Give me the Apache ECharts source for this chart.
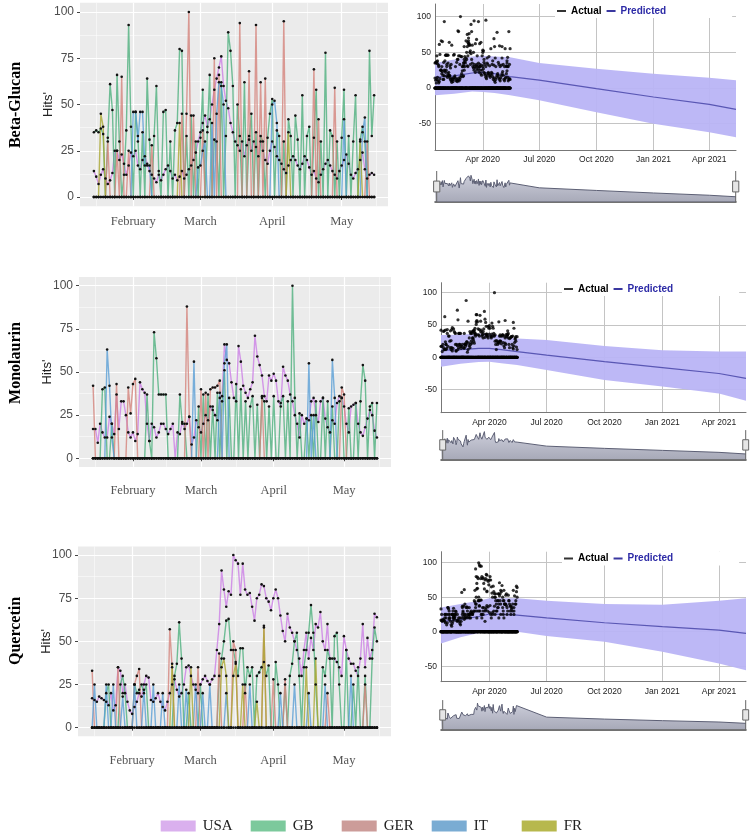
<!DOCTYPE html>
<html><head><meta charset="utf-8">
<script src="https://cdn.jsdelivr.net/npm/echarts@6/dist/echarts.min.js"></script>
<style>html,body{margin:0;padding:0;background:#fff}#c{width:752px;height:836px}</style>
</head><body><div id="c"></div>
<script>
// ---------------- DATA ----------------
const countries = ['USA', 'GB', 'GER', 'IT', 'FR'];
const panelNames = ['Beta-Glucan', 'Monolaurin', 'Quercetin'];
const firstDay = '2020-01-15';   // day 0 of the daily arrays (122 days, to 2020-05-15)
const monthTickDates = ['2020-02-01', '2020-03-01', '2020-04-01', '2020-05-01'];
const monthTickLabels = ['February', 'March', 'April', 'May'];
const minorTickDates = ['2020-01-16', '2020-02-15', '2020-03-16', '2020-04-16', '2020-05-16'];
const hitsMajorTicks = [0, 25, 50, 75, 100];
const hitsMinorTicks = [12.5, 37.5, 62.5, 87.5];
const fcTickDates = ['2020-04-01', '2020-07-01', '2020-10-01', '2021-01-01', '2021-04-01'];
const fcTickLabels = ['Apr 2020', 'Jul 2020', 'Oct 2020', 'Jan 2021', 'Apr 2021'];
const fcValueTicks = [-50, 0, 50, 100];

// Beta-Glucan
const bUSA = [14,11,7,12,15,10,7,9,13,25, 25,20,23,18,12,17,24,22,25,17, 15,20,22,18,14,12,10,8,12,9, 12,15,17,14,10,12,9,11,14,10, 12,15,17,20,24,30,35,40,44,38, 42,50,58,64,70,76,60,52,48,40, 35,30,28,25,30,22,28,33,25,30, 27,22,30,25,20,18,25,30,27,22, 20,18,15,13,17,20,22,20,17,15, 18,22,20,16,12,14,10,8,12,15, 18,20,17,14,12,10,14,17,20,23, 18,12,10,13,15,20,24,15,10,12, 13,12];
const bGB = [35,36,35,37,34,0,32,61,47,0, 66,30,0,12,36,93,38,0,46,33, 0,35,0,64,31,0,33,60,14,0, 46,47,0,30,0,36,40,80,79,0, 33,0,44,0,30,0,32,58,0,35, 66,0,31,30,0,62,0,33,89,79, 60,0,50,33,0,62,0,31,45,0, 35,0,33,30,0,32,45,53,0,36, 33,0,30,0,42,33,0,44,31,0, 55,0,33,38,0,32,58,0,30,0, 78,0,36,33,0,30,0,32,58,0, 33,0,30,55,0,31,38,30,0,79, 33,55];
const bGER = [0,0,0,0,0,0,30,0,0,0, 25,0,65,0,0,25,0,0,0,0, 0,0,0,0,0,28,0,0,0,0, 0,0,0,0,0,0,0,0,45,0, 45,100,0,44,0,0,0,36,0,0, 0,0,75,0,66,0,0,0,0,0, 0,0,0,94,0,0,0,68,0,0, 93,0,62,0,64,0,0,0,0,0, 0,0,95,0,0,0,0,0,0,0, 0,0,0,0,0,69,0,42,0,0, 0,0,0,0,59,0,0,0,0,0, 0,0,0,0,0,0,0,0,30,0, 0,0];
const bIT = [0,0,0,0,0,0,0,0,0,0, 0,0,0,0,0,0,0,46,46,30, 46,46,17,17,17,0,0,0,0,0, 0,0,0,0,0,0,0,0,0,0, 0,0,0,0,0,16,17,25,30,0, 0,40,0,45,62,60,50,0,0,0, 0,0,0,0,0,0,0,0,0,0, 0,0,0,0,0,0,0,50,52,40, 0,0,0,0,0,0,0,0,0,0, 0,0,0,0,0,0,0,0,0,0, 0,0,0,0,0,0,0,0,42,0, 0,0,0,0,0,0,35,43,0,0, 0,0];
const bFR = [0,0,0,45,38,0,0,0,0,0, 0,0,0,0,0,0,0,0,0,0, 0,0,0,0,0,0,0,0,0,0, 0,0,0,0,0,0,0,40,0,0, 0,0,0,0,0,0,0,0,0,0, 0,0,0,0,0,0,0,0,0,0, 0,0,0,0,0,0,0,0,0,0, 0,0,0,0,0,0,0,0,0,0, 0,0,0,0,35,0,0,0,0,0, 0,0,0,0,0,0,0,0,0,0, 0,0,0,0,0,0,0,0,0,0, 0,0,0,0,0,30,0,0,0,0, 0,0];

// Monolaurin
const mUSA = [17,17,9,20,15,12,12,24,20,14, 37,17,33,33,25,15,12,15,10,14, 44,40,38,20,10,20,18,12,15,20, 20,17,14,17,20,0,15,14,21,17, 20,24,8,12,22,18,15,20,25,22, 30,28,25,22,35,36,66,57,55,44, 35,33,65,56,42,38,35,40,44,71, 59,54,48,36,33,48,45,49,45,33, 30,53,48,45,37,33,25,20,12,25, 20,23,22,33,35,25,21,33,35,23, 18,15,22,20,32,36,35,30,20,15, 30,31,32,20,15,13,18,23,28,25, 16,12];
const mGB = [0,0,0,0,40,41,0,0,20,0, 0,0,0,0,0,0,0,0,0,0, 0,0,0,37,10,0,73,58,37,37, 37,37,0,0,0,0,0,37,20,20, 0,0,0,0,0,30,0,37,0,37, 0,30,0,38,0,33,51,0,35,0, 0,43,0,40,0,33,0,30,36,0, 31,0,35,33,0,30,0,36,0,0, 32,36,0,33,0,100,35,0,26,0, 0,23,0,25,0,33,0,0,35,0, 33,0,30,0,0,33,35,0,0,29, 0,0,32,0,33,54,45,0,30,32, 0,32];
const mGER = [42,0,0,0,0,0,0,0,0,0, 43,0,0,0,0,41,26,43,46,0, 0,0,0,0,0,0,0,0,0,0, 0,0,0,0,0,0,0,0,0,0, 88,24,0,0,0,0,40,0,38,0, 40,41,41,42,45,0,0,0,0,0, 0,0,0,0,0,0,0,0,0,0, 0,0,36,0,0,0,0,0,0,0, 0,0,0,0,0,0,0,0,0,0, 0,0,0,0,0,0,0,0,0,0, 0,0,0,0,0,0,41,37,0,0, 0,0,0,0,0,0,0,0,0,0, 0,0];
const mIT = [0,0,0,0,0,0,63,42,12,0, 0,0,0,0,0,0,0,0,0,0, 0,0,0,0,0,0,0,0,0,0, 0,0,0,0,0,0,0,0,0,0, 0,0,0,56,0,0,0,0,0,0, 0,0,0,0,38,0,55,66,0,0, 0,0,0,0,0,0,0,0,0,0, 0,0,0,0,0,0,0,0,0,0, 0,0,0,0,0,0,0,0,0,0, 0,0,55,0,25,0,0,0,0,0, 0,0,57,35,0,0,0,0,0,0, 0,0,0,0,0,0,0,0,0,0, 0,0];
const mFR = [0,0,0,0,0,0,0,0,0,0, 0,0,0,0,0,0,0,0,0,0, 0,0,0,0,0,0,0,0,0,0, 0,0,0,0,0,0,0,0,0,0, 0,0,0,0,0,0,0,0,0,0, 0,0,0,0,0,0,0,0,0,0, 0,0,0,0,0,0,0,0,0,0, 0,0,0,0,0,0,0,0,0,0, 0,0,0,0,0,0,0,0,0,0, 0,0,0,0,0,0,0,0,0,0, 0,0,0,0,0,0,0,0,0,0, 0,0,0,0,0,0,0,0,0,0, 0,0];

// Quercetin
const qUSA = [17,16,15,18,17,16,15,13,20,10, 13,35,33,20,25,15,10,8,12,15, 20,18,25,30,29,16,15,17,20,15, 12,10,15,20,25,28,22,18,20,25, 35,36,30,25,22,20,25,28,30,27, 25,28,30,45,60,91,80,70,79,77, 100,97,95,77,95,80,77,78,70,62, 75,77,83,82,75,73,68,75,80,75, 65,56,50,66,58,55,50,45,40,30, 45,55,40,52,45,60,58,67,50,45, 60,40,40,40,38,35,30,53,45,40, 37,37,33,30,40,60,35,52,40,45, 66,64];
const qGB = [0,0,0,0,0,0,20,25,0,0, 0,0,25,30,20,0,0,0,25,20, 22,25,20,25,0,0,0,0,0,0, 0,0,0,0,0,30,37,61,40,0, 0,20,0,0,0,0,25,0,0,0, 0,0,0,0,30,40,50,62,63,45, 45,38,30,46,46,20,35,30,35,0, 30,32,35,38,30,36,0,0,38,25, 0,0,25,0,30,37,50,55,30,0, 35,45,55,71,55,25,0,0,35,30, 45,40,0,53,55,25,0,0,45,0, 0,25,0,35,0,0,30,0,0,40, 58,50];
const qGER = [33,0,0,0,0,0,0,0,0,0, 0,35,0,0,0,0,0,0,25,30, 34,0,0,0,0,0,0,0,0,0, 0,0,0,57,35,0,0,0,0,0, 0,0,0,0,0,35,0,0,0,0, 0,0,0,0,43,0,0,0,0,0, 50,45,0,0,0,25,0,0,0,0, 0,0,0,59,0,0,0,28,0,0, 0,0,28,0,0,0,0,0,0,0, 0,0,0,0,0,0,0,0,0,0, 20,0,0,0,0,0,0,0,0,0, 0,0,0,0,0,0,25,0,0,0, 0,0];
const qIT = [0,25,0,0,0,0,25,0,0,25, 0,0,0,18,0,0,0,0,25,0, 0,0,22,0,0,0,25,0,0,0, 20,0,0,0,0,0,0,25,0,0, 22,0,0,0,25,0,0,20,0,0, 25,0,0,0,0,0,0,20,0,0, 0,0,0,0,0,0,0,25,0,0, 0,0,0,0,0,0,0,0,0,0, 20,0,0,0,0,0,25,0,0,0, 0,0,20,0,0,0,0,0,0,25, 0,0,0,0,0,0,0,0,0,0, 30,0,0,0,0,0,0,0,0,0, 0,0];
const qFR = [0,0,0,0,0,0,0,0,0,0, 0,0,0,0,0,0,0,0,0,0, 0,0,0,0,0,0,0,0,0,0, 0,0,0,0,37,0,0,0,0,0, 0,0,35,0,0,0,0,0,0,0, 0,0,0,0,0,35,40,30,0,0, 30,37,0,0,25,0,0,0,0,0, 15,0,0,58,0,0,0,0,0,0, 0,0,0,0,0,0,0,0,0,0, 0,35,0,0,0,40,0,0,0,0, 0,0,0,0,0,0,0,0,0,0, 0,0,0,0,0,0,0,0,0,0, 0,0];

// Forecast (prophet) anchors
const fcDates = ['2020-01-15','2020-02-15','2020-03-15','2020-04-01','2020-04-20','2020-05-15','2020-07-01','2020-10-01','2021-01-01','2021-04-01','2021-05-14'];
const bPred  = [15, 17, 21, 22, 20, 16, 11, -1, -12.6, -23, -30];
const bUpper = [35, 40, 44, 45, 44, 43, 35, 27, 20, 14.5, 11];
const bLower = [-10, -8, -5, -5.6, -7, -10, -17, -34, -50, -62, -69];
const mPred  = [11, 12, 14, 14, 12, 9, 3.6, -6.7, -16, -25, -32.5];
const mUpper = [34.5, 35, 37, 37, 33, 29, 27, 17.5, 11, 9, 9];
const mLower = [-14.4, -10, -7, -6.7, -9, -12, -19.6, -35, -45, -56, -67];
const qPred  = [14.6, 18, 22, 25.7, 25, 24, 20, 13, 7.3, 2.4, -2.4];
const qUpper = [35, 40, 45, 48.5, 48.5, 48.5, 45, 40, 39, 45, 48.5];
const qLower = [-17, -8, -2, 2.4, 1, 0, -6.3, -14.6, -29, -46, -56];

// ---------------- STYLE / LAYOUT ----------------
const lineColors = ['#cc80e6', '#4fb07e', '#d4837c', '#5a9fd6', '#aaa832'];
const legendColors = ['#dab0ee', '#7cc99c', '#cc9c99', '#7aacd3', '#b7b84d'];
const legendLefts = [160.7, 250.7, 341.7, 431.7, 521.7];
const panels = [
  { name: panelNames[0], vals: [bUSA,bGB,bGER,bIT,bFR], pred: bPred, up: bUpper, lo: bLower,
    L: {left:80, width:308, top:2.75, height:203.5, labelMargin:9}, labelY: 105,
    R: {left:435, width:301, top:4, height:146, min:-86.8, max:117.6},
    M: {top:173, height:29, min:-54, max:79}, legend: {left:555, top:4, rpad:66} },
  { name: panelNames[1], vals: [mUSA,mGB,mGER,mIT,mFR], pred: mPred, up: mUpper, lo: mLower,
    L: {left:79, width:312, top:277.1, height:189.8, labelMargin:17}, labelY: 363,
    R: {left:441, width:305, top:282.7, height:130, min:-85.6, max:115.5},
    M: {top:431.7, height:27.6, min:-57, max:70}, legend: {left:562, top:282, rpad:66} },
  { name: panelNames[2], vals: [qUSA,qGB,qGER,qIT,qFR], pred: qPred, up: qUpper, lo: qLower,
    L: {left:78, width:313, top:546.4, height:189.9, labelMargin:18}, labelY: 631,
    R: {left:441, width:305, top:551.7, height:130, min:-72.5, max:116},
    M: {top:701.7, height:27.6, min:-24, max:76}, legend: {left:562, top:551.5, rpad:66} }
];

function dayStr(d) {
  const t = new Date(Date.UTC(2020, 0, 15 + d));
  return t.toISOString().slice(0, 10);
}
const ts = s => +echarts.time.parse(s);
const leftCats = [];
for (let d = -6; d <= 127; d++) leftCats.push(dayStr(d));
const fcMin = ts('2020-01-15'), fcMax = ts('2021-05-14');
const fcTickTimes = fcTickDates.map(ts);

const grids = [], xAxes = [], yAxes = [], series = [], dataZooms = [], legends = [], graphics = [];

panels.forEach((p, pi) => {
  // ---- left ggplot panel ----
  const gL = grids.length;
  grids.push({ left: p.L.left, top: p.L.top, width: p.L.width, height: p.L.height, show: true,
    backgroundColor: '#ebebeb', borderWidth: 0, outerBoundsMode: 'none' });
  const xMaj = xAxes.length;
  xAxes.push({ type: 'category', gridIndex: gL, data: leftCats, boundaryGap: false, position: 'bottom',
    axisLine: { show: false },
    axisTick: { show: true, length: 3, lineStyle: { color: '#444' }, interval: (i, v) => monthTickDates.includes(v) },
    axisLabel: { show: true, margin: p.L.labelMargin, interval: (i, v) => monthTickDates.includes(v),
      formatter: v => monthTickLabels[monthTickDates.indexOf(v)] || '',
      fontFamily: 'Liberation Serif', fontSize: 12.5, color: '#555' },
    splitLine: { show: true, interval: (i, v) => monthTickDates.includes(v), lineStyle: { color: '#fff', width: 1.2 } } });
  xAxes.push({ type: 'category', gridIndex: gL, data: leftCats, boundaryGap: false, position: 'bottom',
    axisLine: { show: false }, axisTick: { show: false }, axisLabel: { show: false },
    splitLine: { show: true, interval: (i, v) => minorTickDates.includes(v), lineStyle: { color: '#fff', width: 0.5 } } });
  const yMaj = yAxes.length;
  yAxes.push({ type: 'value', gridIndex: gL, min: -5, max: 105, position: 'left',
    name: "Hits'", nameLocation: 'middle', nameGap: 25, nameMoveOverlap: false,
    nameTextStyle: { fontFamily: 'Liberation Sans', fontSize: 13, color: '#222' },
    axisLine: { show: false },
    axisTick: { show: true, length: 3, customValues: hitsMajorTicks, lineStyle: { color: '#444' } },
    axisLabel: { show: true, customValues: hitsMajorTicks, margin: 6, fontFamily: 'Liberation Sans', fontSize: 12, color: '#4d4d4d' },
    splitLine: { show: true, lineStyle: { color: '#fff', width: 1.2 } } });
  yAxes.push({ type: 'value', gridIndex: gL, min: -5, max: 105, position: 'left',
    axisLine: { show: false }, axisTick: { show: false, customValues: hitsMinorTicks },
    axisLabel: { show: false, customValues: hitsMinorTicks },
    splitLine: { show: true, lineStyle: { color: '#fff', width: 0.5 } } });
  p.vals.forEach((vals, k) => {
    series.push({ name: countries[k], type: 'line', xAxisIndex: xMaj, yAxisIndex: yMaj,
      data: vals.map((v, i) => [dayStr(i), v]),
      showSymbol: true, showAllSymbol: true, symbol: 'circle', symbolSize: 2.6,
      itemStyle: { color: '#111' }, lineStyle: { color: lineColors[k], width: 1.4, opacity: 0.8 },
      silent: true, emphasis: { disabled: true }, z: 2 });
  });

  // ---- right forecast panel ----
  const gR = grids.length;
  grids.push({ left: p.R.left, top: p.R.top, width: p.R.width, height: p.R.height, show: false, outerBoundsMode: 'none' });
  const xR = xAxes.length;
  xAxes.push({ type: 'value', gridIndex: gR, min: fcMin, max: fcMax, position: 'bottom',
    axisLine: { show: true, onZero: false, lineStyle: { color: '#777', width: 1 } },
    axisTick: { show: false, customValues: fcTickTimes },
    axisLabel: { show: true, customValues: fcTickTimes, margin: 5, fontFamily: 'Liberation Sans', fontSize: 8.5, color: '#222',
      formatter: v => { const i = fcTickTimes.findIndex(t => Math.abs(t - v) < 86400000); return i >= 0 ? fcTickLabels[i] : ''; } },
    splitLine: { show: true, lineStyle: { color: '#c4c4c4', width: 1 } } });
  const yR = yAxes.length;
  yAxes.push({ type: 'value', gridIndex: gR, min: p.R.min, max: p.R.max, position: 'left',
    axisLine: { show: true, onZero: false, lineStyle: { color: '#777', width: 1 } },
    axisTick: { show: false, customValues: fcValueTicks },
    axisLabel: { show: true, customValues: fcValueTicks, margin: 4, fontFamily: 'Liberation Sans', fontSize: 8.5, color: '#222' },
    splitLine: { show: true, lineStyle: { color: '#c4c4c4', width: 1 } } });
  // uncertainty band: polygon through upper points then lower points (library coords)
  series.push({ name: 'band' + pi, type: 'custom', xAxisIndex: xR, yAxisIndex: yR, silent: true, z: 1,
    data: fcDates.map((d, i) => [ts(d), p.lo[i], p.up[i]]),
    encode: { x: 0, y: [1, 2] },
    clip: true,
    renderItem: (params, api) => {
      if (params.dataIndex !== 0) return null;
      const upPts = fcDates.map((d, i) => api.coord([ts(d), p.up[i]]));
      const loPts = fcDates.map((d, i) => api.coord([ts(d), p.lo[i]])).reverse();
      return { type: 'polygon', shape: { points: upPts.concat(loPts) },
        style: { fill: '#b9b4f5', opacity: 0.95 } };
    } });
  series.push({ name: 'Predicted', type: 'line', xAxisIndex: xR, yAxisIndex: yR,
    data: fcDates.map((d, i) => [ts(d), p.pred[i]]), showSymbol: false,
    itemStyle: { color: '#3a38a0' }, lineStyle: { color: '#4845a8', width: 1.2, opacity: 0.85 }, silent: true, z: 2 });
  const pts = [];
  p.vals.forEach(vals => vals.forEach((v, i) => pts.push([ts(dayStr(i)), v])));
  series.push({ name: 'Actual', type: 'scatter', xAxisIndex: xR, yAxisIndex: yR, data: pts,
    symbol: 'circle', symbolSize: 3.2, itemStyle: { color: '#000' }, silent: true, z: 3 });

  // ---- range selector (mini) ----
  const gM = grids.length;
  grids.push({ left: p.R.left, top: p.M.top, width: p.R.width, height: p.M.height, show: false, outerBoundsMode: 'none' });
  const xM = xAxes.length;
  xAxes.push({ type: 'value', gridIndex: gM, min: fcMin, max: fcMax, position: 'bottom',
    axisLine: { show: true, onZero: false, lineStyle: { color: '#444', width: 1.5 } }, axisTick: { show: false },
    axisLabel: { show: false }, splitLine: { show: false } });
  const yM = yAxes.length;
  yAxes.push({ type: 'value', gridIndex: gM, min: p.M.min, max: p.M.max, show: false, splitLine: { show: false } });
  const mini = [];
  const lastActual = ts(dayStr(p.vals[0].length - 1));
  for (let i = 0; i < p.vals[0].length; i++) {
    const nz = p.vals.map(a => a[i]).filter(v => v > 0);
    mini.push([ts(dayStr(i)), nz.length ? nz.reduce((s, v) => s + v, 0) / nz.length : 0]);
  }
  fcDates.forEach((d, i) => { if (ts(d) > lastActual) mini.push([ts(d), p.pred[i]]); });
  series.push({ name: 'mini' + pi, type: 'line', xAxisIndex: xM, yAxisIndex: yM, data: mini, showSymbol: false,
    lineStyle: { color: '#5d6075', width: 1 },
    areaStyle: { origin: 'start', color: new echarts.graphic.LinearGradient(0, 0, 0, 1,
      [{ offset: 0, color: '#b6b8ca' }, { offset: 1, color: '#82859a' }]) },
    silent: true, z: 1 });
  dataZooms.push({ type: 'slider', xAxisIndex: [xR], filterMode: 'none', start: 0, end: 100,
    left: p.R.left, width: p.R.width, top: p.M.top - 2, height: p.M.height + 2,
    showDataShadow: false, showDetail: false, brushSelect: false, moveHandleSize: 0,
    backgroundColor: 'rgba(0,0,0,0)', borderColor: 'rgba(0,0,0,0)', fillerColor: 'rgba(0,0,0,0)',
    handleIcon: 'path://M0,0V13M-4,13h8v14h-8zM0,27V40', handleSize: '100%',
    handleStyle: { color: '#e6e6e6', borderColor: '#666', borderWidth: 1 }, z: 5 });

  legends.push({ left: p.legend.left, top: p.legend.top, orient: 'horizontal', icon: 'rect',
    itemWidth: 9, itemHeight: 2, itemGap: 5, padding: [2, p.legend.rpad, 2, 2], backgroundColor: '#fff',
    selectedMode: false, textStyle: { fontFamily: 'Liberation Sans', fontSize: 10, fontWeight: 'bold' },
    data: [ { name: 'Actual', itemStyle: { color: '#000' }, textStyle: { color: '#000' } },
            { name: 'Predicted', itemStyle: { color: '#3a38a0' }, textStyle: { color: '#2c2aa6' } } ] });

  graphics.push({ type: 'text', x: 16, y: p.labelY, rotation: Math.PI / 2,
    style: { text: p.name, font: 'bold 16px "Liberation Serif"', fill: '#000', textAlign: 'center', textVerticalAlign: 'middle' } });
});

// bottom legend: one entry per country, evenly spaced as in the reference
countries.forEach((c, k) => {
  legends.push({ left: legendLefts[k], top: 818.5, orient: 'horizontal', icon: 'rect', itemWidth: 35, itemHeight: 11,
    padding: 0, selectedMode: false,
    textStyle: { fontFamily: 'Liberation Serif', fontSize: 15, color: '#222', padding: [0, 0, 0, 2] },
    data: [{ name: c, itemStyle: { color: legendColors[k], borderWidth: 0 } }] });
});

const chart = echarts.init(document.getElementById('c'), null, { renderer: 'canvas' });
chart.setOption({
  animation: false,
  backgroundColor: '#fff',
  grid: grids, xAxis: xAxes, yAxis: yAxes, series: series,
  dataZoom: dataZooms, legend: legends, graphic: graphics,
  tooltip: { show: false }
});
</script></body></html>
